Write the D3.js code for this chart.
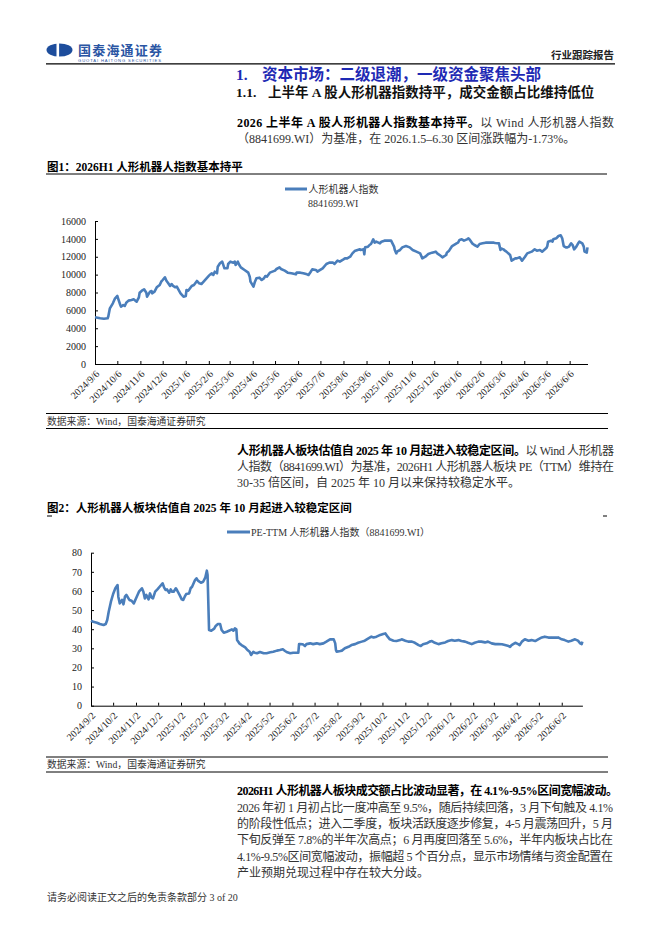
<!DOCTYPE html>
<html>
<head>
<meta charset="utf-8">
<script src="https://cdn.jsdelivr.net/npm/d3@7"></script>
<style>
  body { margin: 0; background: #fff; }
  svg { display: block; font-family: "Liberation Serif", "Noto Sans CJK SC", serif; }
</style>
</head>
<body>
<svg width="662" height="936"></svg>
<script>
// ---- data ----
// 人形机器人指数 8841699.WI (daily close, sampled)
var indexSeries = [
  ["2024-09-06",5220],["2024-09-13",5110],["2024-09-18",5070],["2024-09-23",5110],["2024-09-24",5370],
  ["2024-09-26",6230],["2024-09-30",6790],["2024-10-03",7350],["2024-10-06",7610],["2024-10-07",7350],
  ["2024-10-10",6600],["2024-10-11",6415],["2024-10-14",6600],["2024-10-16",6490],["2024-10-18",6860],
  ["2024-10-21",7090],["2024-10-25",7160],["2024-10-28",7235],["2024-11-01",6975],["2024-11-04",7460],
  ["2024-11-05",7980],["2024-11-08",8205],["2024-11-11",8355],["2024-11-14",7980],["2024-11-15",7530],
  ["2024-11-19",8095],["2024-11-21",8170],["2024-11-22",7910],["2024-11-25",8095],["2024-11-28",8580],
  ["2024-12-02",8840],["2024-12-04",9210],["2024-12-06",9400],["2024-12-09",9700],["2024-12-11",9325],
  ["2024-12-13",9100],["2024-12-16",8730],["2024-12-18",8950],["2024-12-20",8730],["2024-12-23",8580],
  ["2024-12-25",8650],["2024-12-27",8355],["2024-12-30",7910],["2025-01-03",7530],["2025-01-06",7610],
  ["2025-01-07",8280],["2025-01-09",8205],["2025-01-10",8280],["2025-01-14",8730],["2025-01-17",8840],
  ["2025-01-21",9290],["2025-01-24",9030],["2025-01-27",8950],["2025-02-05",9770],["2025-02-07",9960],
  ["2025-02-10",10145],["2025-02-12",9960],["2025-02-14",10330],["2025-02-17",10145],["2025-02-18",10890],
  ["2025-02-21",11265],["2025-02-24",11450],["2025-02-27",10705],["2025-03-03",10705],["2025-03-04",11190],
  ["2025-03-07",11450],["2025-03-11",11340],["2025-03-13",11450],["2025-03-14",11080],["2025-03-17",11450],
  ["2025-03-19",11080],["2025-03-21",10815],["2025-03-26",10520],["2025-03-31",10220],["2025-04-02",9770],
  ["2025-04-03",9210],["2025-04-07",8650],["2025-04-09",9210],["2025-04-11",9585],["2025-04-15",9660],
  ["2025-04-18",9400],["2025-04-21",9585],["2025-04-23",9845],["2025-04-25",9770],["2025-04-29",10220],
  ["2025-05-06",10445],["2025-05-08",10630],["2025-05-12",10815],["2025-05-14",10630],["2025-05-19",10445],
  ["2025-05-23",10220],["2025-05-28",10145],["2025-06-03",10030],["2025-06-04",10220],["2025-06-09",10220],
  ["2025-06-13",10145],["2025-06-18",10030],["2025-06-20",9960],["2025-06-23",10330],["2025-06-25",10590],
  ["2025-06-30",10520],["2025-07-02",10330],["2025-07-04",10440],["2025-07-09",10705],["2025-07-14",11190],
  ["2025-07-18",11340],["2025-07-23",11340],["2025-07-25",11190],["2025-07-29",11560],["2025-08-01",11450],
  ["2025-08-06",11710],["2025-08-08",11820],["2025-08-11",11820],["2025-08-15",12010],["2025-08-18",12380],
  ["2025-08-21",12640],["2025-08-25",12755],["2025-08-28",12830],["2025-08-29",12755],["2025-09-02",12830],
  ["2025-09-03",12270],["2025-09-04",13050],["2025-09-08",13130],["2025-09-10",13315],["2025-09-12",13430],
  ["2025-09-15",13950],["2025-09-17",13575],["2025-09-19",13690],["2025-09-22",13575],["2025-09-24",13500],
  ["2025-09-26",13690],["2025-09-30",13800],["2025-10-09",13800],["2025-10-13",13130],["2025-10-14",12755],
  ["2025-10-16",12380],["2025-10-17",12570],["2025-10-21",12755],["2025-10-24",13050],["2025-10-29",13200],
  ["2025-11-03",13050],["2025-11-07",12755],["2025-11-12",12570],["2025-11-17",12380],["2025-11-20",11820],
  ["2025-11-24",12010],["2025-11-28",12310],["2025-12-03",12460],["2025-12-08",12570],["2025-12-10",12380],
  ["2025-12-15",12085],["2025-12-17",11935],["2025-12-22",12195],["2025-12-23",12460],["2025-12-26",12680],
  ["2025-12-30",13200],["2026-01-05",13500],["2026-01-07",13575],["2026-01-09",13875],["2026-01-12",13950],
  ["2026-01-15",13800],["2026-01-19",13950],["2026-01-21",14060],["2026-01-23",13875],["2026-01-26",13500],
  ["2026-01-29",13315],["2026-02-02",13130],["2026-02-05",13430],["2026-02-09",13500],["2026-02-13",13575],
  ["2026-02-24",13575],["2026-02-26",13540],["2026-03-03",13500],["2026-03-05",12755],["2026-03-06",12940],
  ["2026-03-09",12830],["2026-03-11",12680],["2026-03-13",12570],["2026-03-18",12195],["2026-03-20",11560],
  ["2026-03-25",11820],["2026-03-27",11820],["2026-03-31",11935],["2026-04-03",11560],["2026-04-07",12010],
  ["2026-04-10",12380],["2026-04-16",12570],["2026-04-20",12830],["2026-04-23",12680],["2026-04-27",12755],
  ["2026-04-30",12570],["2026-05-06",13000],["2026-05-07",13200],["2026-05-08",13690],["2026-05-12",13800],
  ["2026-05-14",13690],["2026-05-15",13950],["2026-05-19",14060],["2026-05-22",14320],["2026-05-25",14400],
  ["2026-05-27",14060],["2026-05-29",13200],["2026-06-01",13050],["2026-06-03",13050],["2026-06-05",13130],
  ["2026-06-08",13500],["2026-06-10",13315],["2026-06-12",12830],["2026-06-15",13130],["2026-06-18",13575],
  ["2026-06-19",13690],["2026-06-23",13500],["2026-06-25",13130],["2026-06-26",12570],["2026-06-29",12460],
  ["2026-06-30",13050]
];

// PE-TTM 人形机器人指数（8841699.WI）
var peSeries = [
  ["2024-09-02",44.4],["2024-09-05",43.9],["2024-09-10",43.4],["2024-09-14",42.7],["2024-09-19",42.2],
  ["2024-09-22",42.7],["2024-09-24",44.8],["2024-09-26",49.1],["2024-09-29",54.4],["2024-10-02",58.4],
  ["2024-10-05",61.4],["2024-10-08",63.1],["2024-10-09",57.0],["2024-10-11",53.5],["2024-10-14",55.3],
  ["2024-10-16",53.0],["2024-10-18",57.0],["2024-10-20",57.9],["2024-10-24",55.3],["2024-10-27",54.9],
  ["2024-10-30",53.5],["2024-11-03",57.0],["2024-11-06",59.6],["2024-11-10",61.4],["2024-11-12",59.6],
  ["2024-11-14",56.1],["2024-11-16",57.9],["2024-11-19",55.6],["2024-11-21",58.7],["2024-11-23",56.6],
  ["2024-11-25",56.1],["2024-11-28",59.6],["2024-12-01",60.8],["2024-12-04",62.2],["2024-12-08",64.0],
  ["2024-12-10",61.9],["2024-12-12",60.5],["2024-12-14",60.8],["2024-12-17",59.1],["2024-12-19",60.8],
  ["2024-12-21",59.6],["2024-12-23",59.6],["2024-12-26",61.4],["2024-12-28",60.1],["2024-12-31",57.9],
  ["2025-01-03",55.6],["2025-01-05",55.3],["2025-01-07",57.0],["2025-01-09",58.4],["2025-01-13",58.7],
  ["2025-01-15",61.4],["2025-01-17",62.2],["2025-01-21",65.7],["2025-01-23",66.6],["2025-01-25",65.4],
  ["2025-01-29",64.3],["2025-02-01",64.8],["2025-02-04",67.1],["2025-02-06",70.6],["2025-02-07",68.3],
  ["2025-02-09",39.6],["2025-02-12",39.2],["2025-02-16",40.3],["2025-02-18",41.7],["2025-02-21",42.7],
  ["2025-02-24",42.7],["2025-02-26",39.6],["2025-03-01",38.2],["2025-03-05",38.7],["2025-03-08",39.2],
  ["2025-03-12",39.9],["2025-03-14",39.2],["2025-03-16",40.4],["2025-03-18",39.9],["2025-03-19",34.3],
  ["2025-03-22",32.6],["2025-03-25",31.7],["2025-03-30",30.5],["2025-04-02",29.1],["2025-04-05",28.2],
  ["2025-04-07",26.5],["2025-04-10",28.2],["2025-04-12",27.7],["2025-04-15",27.4],["2025-04-19",28.1],
  ["2025-04-24",27.4],["2025-04-28",27.4],["2025-05-03",27.9],["2025-05-07",28.2],["2025-05-12",28.8],
  ["2025-05-16",29.1],["2025-05-20",29.5],["2025-05-23",28.6],["2025-05-26",27.9],["2025-05-30",27.4],
  ["2025-06-03",27.7],["2025-06-08",27.7],["2025-06-10",27.7],["2025-06-11",32.2],["2025-06-12",32.2],
  ["2025-06-16",32.1],["2025-06-19",31.2],["2025-06-21",32.2],["2025-06-26",32.6],["2025-06-30",32.2],
  ["2025-07-05",32.6],["2025-07-09",32.2],["2025-07-14",32.6],["2025-07-18",33.5],["2025-07-23",34.7],
  ["2025-07-28",34.7],["2025-07-30",32.6],["2025-07-31",29.1],["2025-08-01",28.2],["2025-08-06",28.6],
  ["2025-08-08",28.8],["2025-08-12",30.0],["2025-08-17",30.8],["2025-08-21",31.7],["2025-08-26",32.2],
  ["2025-08-30",32.9],["2025-09-04",33.5],["2025-09-08",34.0],["2025-09-13",35.2],["2025-09-17",36.1],
  ["2025-09-20",35.7],["2025-09-24",36.1],["2025-09-29",37.0],["2025-10-03",37.5],["2025-10-06",37.8],
  ["2025-10-09",36.1],["2025-10-12",34.7],["2025-10-17",34.0],["2025-10-21",33.8],["2025-10-26",34.3],
  ["2025-10-28",34.7],["2025-11-02",34.0],["2025-11-06",33.5],["2025-11-11",33.5],["2025-11-15",32.9],
  ["2025-11-20",31.7],["2025-11-23",31.2],["2025-11-26",32.1],["2025-12-01",32.6],["2025-12-05",33.5],
  ["2025-12-08",33.8],["2025-12-12",32.9],["2025-12-17",32.2],["2025-12-21",32.6],["2025-12-26",33.1],
  ["2025-12-30",33.8],["2026-01-04",34.3],["2026-01-08",34.0],["2026-01-13",34.3],["2026-01-17",33.8],
  ["2026-01-22",33.5],["2026-01-26",32.9],["2026-01-31",32.2],["2026-02-04",32.9],["2026-02-09",33.5],
  ["2026-02-13",33.5],["2026-02-18",33.1],["2026-02-22",33.5],["2026-02-27",32.6],["2026-03-04",32.2],
  ["2026-03-08",32.2],["2026-03-13",32.1],["2026-03-17",31.7],["2026-03-22",31.2],["2026-03-24",30.8],
  ["2026-03-26",31.7],["2026-03-31",32.9],["2026-04-04",32.2],["2026-04-06",31.7],["2026-04-09",33.5],
  ["2026-04-13",34.7],["2026-04-18",34.0],["2026-04-22",34.3],["2026-04-27",33.8],["2026-05-01",34.7],
  ["2026-05-06",35.7],["2026-05-10",36.1],["2026-05-15",35.6],["2026-05-19",35.7],["2026-05-24",35.6],
  ["2026-05-28",35.7],["2026-06-02",34.7],["2026-06-06",34.3],["2026-06-11",33.5],["2026-06-15",34.0],
  ["2026-06-20",34.7],["2026-06-24",34.0],["2026-06-27",32.6],["2026-06-29",32.2],["2026-06-30",33.5]
];

var ticks1 = ["2024/9/6","2024/10/6","2024/11/6","2024/12/6","2025/1/6","2025/2/6","2025/3/6","2025/4/6",
  "2025/5/6","2025/6/6","2025/7/6","2025/8/6","2025/9/6","2025/10/6","2025/11/6","2025/12/6",
  "2026/1/6","2026/2/6","2026/3/6","2026/4/6","2026/5/6","2026/6/6"];
var ticks2 = ["2024/9/2","2024/10/2","2024/11/2","2024/12/2","2025/1/2","2025/2/2","2025/3/2","2025/4/2",
  "2025/5/2","2025/6/2","2025/7/2","2025/8/2","2025/9/2","2025/10/2","2025/11/2","2025/12/2",
  "2026/1/2","2026/2/2","2026/3/2","2026/4/2","2026/5/2","2026/6/2"];
var yTicks1 = [0,2000,4000,6000,8000,10000,12000,14000,16000];
var yTicks2 = [0,10,20,30,40,50,60,70,80];

var lineColor = "#4a7ebb";
var parseDay = d3.timeParse("%Y-%m-%d");
var parseTick = d3.timeParse("%Y/%m/%d");

var svg = d3.select("svg");

// ---- page header ----
svg.append("ellipse").attr("cx", 59.5).attr("cy", 50).attr("rx", 13).attr("ry", 6.6).attr("fill", "#1d4d9c");
svg.append("rect").attr("x", 56.5).attr("y", 42).attr("width", 2.6).attr("height", 16).attr("fill", "#fff");
svg.append("text").attr("x", 78).attr("y", 54.5).attr("font-size", 13).attr("font-weight", 700)
  .attr("fill", "#2a55a3").attr("font-family", "Noto Sans CJK SC")
  .attr("textLength", 84).attr("lengthAdjust", "spacing").text("国泰海通证券");
svg.append("text").attr("x", 78).attr("y", 62.3).attr("font-size", 4.2).attr("fill", "#2a55a3")
  .attr("font-family", "Liberation Sans").attr("textLength", 83).attr("lengthAdjust", "spacing")
  .text("GUOTAI HAITONG SECURITIES");
svg.append("text").attr("x", 614).attr("y", 59).attr("text-anchor", "end").attr("font-size", 10.5)
  .attr("font-weight", 700).attr("fill", "#222").text("行业跟踪报告");
svg.append("line").attr("x1", 46).attr("x2", 615).attr("y1", 63.8).attr("y2", 63.8)
  .attr("stroke", "#000").attr("stroke-width", 1.2);

// section titles
svg.append("text").attr("x", 236).attr("y", 80).attr("font-size", 15.5).attr("font-weight", 700)
  .attr("fill", "#1e2ab4").text("1.");
svg.append("text").attr("x", 262).attr("y", 80).attr("font-size", 15.5).attr("font-weight", 700)
  .attr("fill", "#1e2ab4").text("资本市场：二级退潮，一级资金聚焦头部");
svg.append("text").attr("x", 236).attr("y", 97).attr("font-size", 13.5).attr("font-weight", 700)
  .attr("fill", "#111").text("1.1.");
svg.append("text").attr("x", 268).attr("y", 97).attr("font-size", 13.5).attr("font-weight", 700)
  .attr("fill", "#111").text("上半年 A 股人形机器指数持平，成交金额占比维持低位");

// body lines: parts = [[text, bold]]; width set => justified
function bodyLine(y, parts, width) {
  var t = svg.append("text").attr("x", 237).attr("y", y).attr("font-size", 12).attr("fill", "#222");
  parts.forEach(function(p) {
    t.append("tspan").attr("font-weight", p[1] ? 700 : 400).attr("fill", p[1] ? "#000" : "#333").text(p[0]);
  });
  if (width) t.attr("textLength", width).attr("lengthAdjust", "spacing");
}

bodyLine(126.5, [["2026 上半年 A 股人形机器人指数基本持平。", true], ["以 Wind 人形机器人指数", false]], 377);
bodyLine(142.8, [["（8841699.WI）为基准，在 2026.1.5–6.30 区间涨跌幅为-1.73%。", false]]);

bodyLine(454.5, [["人形机器人板块估值自 2025 年 10 月起进入较稳定区间。", true], ["以 Wind 人形机器", false]], 377);
bodyLine(470.8, [["人指数（8841699.WI）为基准，2026H1 人形机器人板块 PE（TTM）维持在", false]], 377);
bodyLine(487.1, [["30-35 倍区间，自 2025 年 10 月以来保持较稳定水平。", false]]);

var p3 = 795.3, lh = 16.3;
bodyLine(p3, [["2026H1 人形机器人板块成交额占比波动显著，在 4.1%-9.5%区间宽幅波动。", true]], 381);
bodyLine(p3 + lh, [["2026 年初 1 月初占比一度冲高至 9.5%，随后持续回落，3 月下旬触及 4.1%", false]], 376);
bodyLine(p3 + 2 * lh, [["的阶段性低点；进入二季度，板块活跃度逐步修复，4-5 月震荡回升，5 月", false]], 376);
bodyLine(p3 + 3 * lh, [["下旬反弹至 7.8%的半年次高点；6 月再度回落至 5.6%，半年内板块占比在", false]], 376);
bodyLine(p3 + 4 * lh, [["4.1%-9.5%区间宽幅波动，振幅超 5 个百分点，显示市场情绪与资金配置在", false]], 376);
bodyLine(p3 + 5 * lh, [["产业预期兑现过程中存在较大分歧。", false]]);

svg.append("text").attr("x", 47).attr("y", 900.5).attr("font-size", 10).attr("fill", "#333")
  .text("请务必阅读正文之后的免责条款部分 3 of 20");

// captions
svg.append("text").attr("x", 47).attr("y", 171).attr("font-size", 11.5).attr("font-weight", 700)
  .attr("fill", "#000").text("图1：2026H1 人形机器人指数基本持平");
svg.append("line").attr("x1", 46).attr("x2", 607).attr("y1", 174).attr("y2", 174).attr("stroke", "#000");
svg.append("text").attr("x", 47).attr("y", 512).attr("font-size", 11.5).attr("font-weight", 700)
  .attr("fill", "#000").text("图2：人形机器人板块估值自 2025 年 10 月起进入较稳定区间");
svg.append("line").attr("x1", 47).attr("x2", 52).attr("y1", 516).attr("y2", 516).attr("stroke", "#000");
svg.append("line").attr("x1", 603).attr("x2", 607).attr("y1", 516).attr("y2", 516).attr("stroke", "#000");

function sourceNote(y) {
  svg.append("line").attr("x1", 46).attr("x2", 608).attr("y1", y).attr("y2", y).attr("stroke", "#000");
  svg.append("text").attr("x", 47).attr("y", y + 11).attr("font-size", 9.8).attr("fill", "#333")
    .text("数据来源：Wind，国泰海通证券研究");
  svg.append("line").attr("x1", 46).attr("x2", 608).attr("y1", y + 15).attr("y2", y + 15).attr("stroke", "#000");
}
sourceNote(413.5);
sourceNote(757);

// ---- charts ----
function drawChart(cfg) {
  var data = cfg.series.map(function(d) { return { date: parseDay(d[0]), v: d[1] }; });
  var x = d3.scaleTime().domain([parseDay(cfg.start), parseDay(cfg.end)]).range([cfg.left, cfg.right]);
  var y = d3.scaleLinear().domain([0, cfg.yMax]).range([cfg.bottom, cfg.top]);
  var g = svg.append("g");

  var yAxis = d3.axisLeft(y).tickValues(cfg.yTicks).tickFormat(d3.format("d"))
    .tickSizeInner(-3).tickSizeOuter(0).tickPadding(9);
  var ya = g.append("g").attr("transform", "translate(" + cfg.left + ",0)").call(yAxis);
  ya.selectAll("text").attr("font-size", 10).attr("fill", "#222")
    .attr("font-family", "Liberation Serif");

  var xAxis = d3.axisBottom(x).tickValues(cfg.ticks.map(parseTick))
    .tickFormat(d3.timeFormat("%Y/%-m/%-d")).tickSizeInner(-3).tickSizeOuter(0);
  var xa = g.append("g").attr("transform", "translate(0," + cfg.bottom + ")").call(xAxis);
  xa.selectAll("text").attr("x", 0).attr("y", 0).attr("dy", "0.35em")
    .attr("text-anchor", "end").attr("transform", "translate(2,8) rotate(-45)")
    .attr("font-size", 10).attr("fill", "#222").attr("font-family", "Liberation Serif");
  g.selectAll(".domain").attr("stroke", "#000").attr("stroke-width", 1);
  g.selectAll(".tick line").attr("stroke", "#000");

  var line = d3.line().x(function(d) { return x(d.date); }).y(function(d) { return y(d.v); });
  g.append("path").datum(data).attr("d", line).attr("fill", "none")
    .attr("stroke", lineColor).attr("stroke-width", 2.6).attr("stroke-linejoin", "round");
}

drawChart({ series: indexSeries, start: "2024-09-06", end: "2026-06-30", left: 95, right: 587.5,
  top: 221, bottom: 364, yMax: 16000, yTicks: yTicks1, ticks: ticks1 });
drawChart({ series: peSeries, start: "2024-09-02", end: "2026-06-30", left: 91, right: 582.4,
  top: 552.7, bottom: 705.7, yMax: 80, yTicks: yTicks2, ticks: ticks2 });

// legends
svg.append("line").attr("x1", 285).attr("x2", 307).attr("y1", 189).attr("y2", 189)
  .attr("stroke", lineColor).attr("stroke-width", 3);
svg.append("text").attr("x", 308.5).attr("y", 192.5).attr("font-size", 10).attr("fill", "#333").text("人形机器人指数");
svg.append("text").attr("x", 308).attr("y", 207).attr("font-size", 10).attr("fill", "#333").text("8841699.WI");
svg.append("line").attr("x1", 227).attr("x2", 250).attr("y1", 532).attr("y2", 532)
  .attr("stroke", lineColor).attr("stroke-width", 3);
svg.append("text").attr("x", 251).attr("y", 535.5).attr("font-size", 10).attr("fill", "#333")
  .text("PE-TTM  人形机器人指数（8841699.WI）");
</script>
</body>
</html>
